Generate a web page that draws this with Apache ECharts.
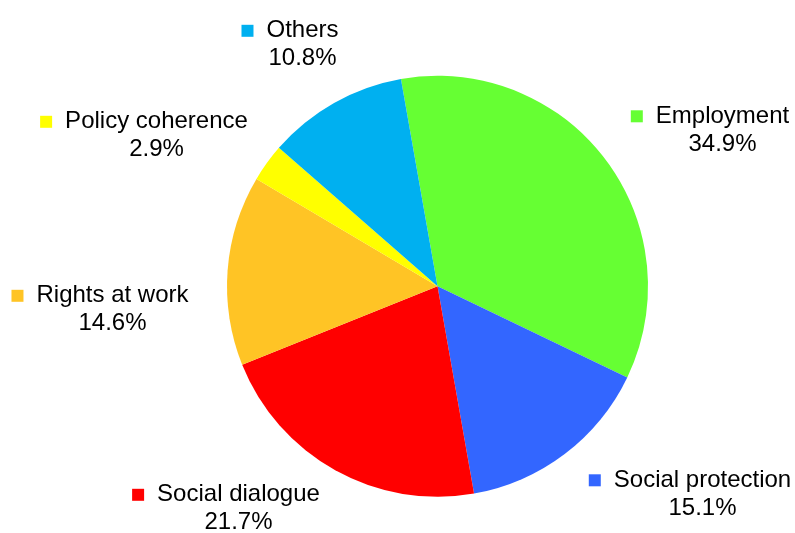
<!DOCTYPE html>
<html>
<head>
<meta charset="utf-8">
<script src="https://cdn.jsdelivr.net/npm/echarts@6/dist/echarts.min.js"></script>
<style>
html,body{margin:0;padding:0;background:#fff;}
#chart{width:795px;height:533px;}
</style>
</head>
<body>
<div id="chart"></div>
<script>
// Data
const categories = ['Employment', 'Social protection', 'Social dialogue', 'Rights at work', 'Policy coherence', 'Others'];
const shares = [34.9, 15.1, 21.7, 14.6, 2.9, 10.8];

// Styling / layout (not data)
const colors = ['#66FF33', '#3366FF', '#FF0000', '#FFC425', '#FFFF00', '#00B0F0'];
const pieCenter = [437.5, 286.3];
const pieRadius = 210.5;
// label block centres, as offsets from the pie centre (px)
const labelOffsets = [[285, -156], [265, 208], [-199, 222.5], [-325, 23.5], [-281, -150.5], [-135, -241.5]];

const FONT = '"Liberation Sans", Arial, sans-serif';
const rich = {
  name: { fontSize: 24, fontFamily: FONT, color: '#000', lineHeight: 28 },
  pct: { fontSize: 24, fontFamily: FONT, color: '#000', lineHeight: 28 },
  gap: { width: 13, fontSize: 10, lineHeight: 28 },
  gapR: { width: 25, fontSize: 10, lineHeight: 28 }
};
colors.forEach((c, i) => {
  rich['sq' + i] = { width: 12, height: 12, backgroundColor: c, fontSize: 10, verticalAlign: 'middle' };
});

const chart = echarts.init(document.getElementById('chart'), null, { renderer: 'canvas' });
chart.setOption({
  animation: false,
  backgroundColor: '#fff',
  color: colors,
  series: [{
    type: 'pie',
    center: pieCenter,
    radius: pieRadius,
    startAngle: 100,
    clockwise: true,
    avoidLabelOverlap: false,
    emphasis: { disabled: true },
    itemStyle: { borderWidth: 0 },
    labelLine: { show: false },
    label: {
      show: true,
      position: 'outside',
      align: 'center',
      formatter: p => '{sq' + p.dataIndex + '| }{gap| }{name|' + p.name + '}{gapR| }\n{pct|' + p.value.toFixed(1) + '%}',
      rich: rich
    },
    labelLayout: function (params) {
      const o = labelOffsets[params.dataIndex];
      return { x: pieCenter[0] + o[0], y: pieCenter[1] + o[1], align: 'center', verticalAlign: 'middle' };
    },
    data: categories.map((n, i) => ({ name: n, value: shares[i] }))
  }]
});
</script>
</body>
</html>
